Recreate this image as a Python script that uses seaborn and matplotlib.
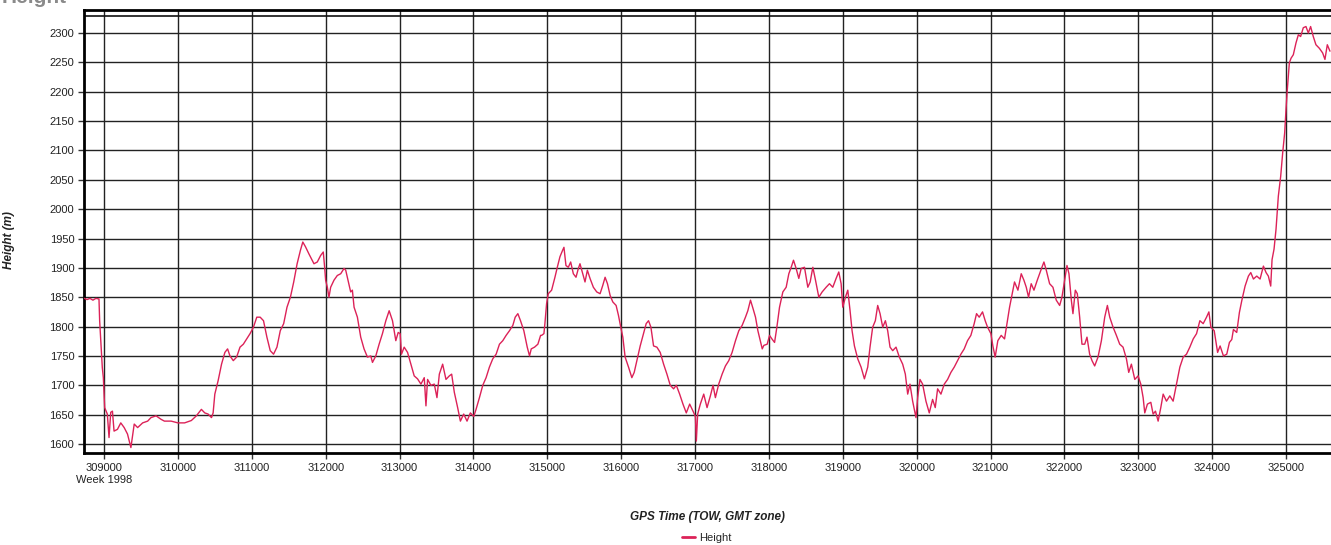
import numpy as np
import pandas as pd
import matplotlib
matplotlib.use('Agg')
from matplotlib import pyplot as plt
from matplotlib.lines import Line2D
import seaborn as sns

# GPS time of week (s) and ellipsoid height (m)
tow_a = [308735, 308770, 308810, 308850, 308890, 308932, 308941, 308977, 308991, 309009,
         309045, 309068, 309091, 309114, 309136, 309182, 309227, 309273, 309318, 309364,
         309409, 309455, 309523, 309591, 309636, 309705, 309773, 309818, 309909, 310000,
         310091, 310182, 310250, 310318, 310364, 310409, 310455, 310477, 310500, 310545,
         310591, 310636, 310673, 310705, 310750, 310795, 310841, 310886, 310932, 310977,
         311023, 311068, 311114, 311159, 311205, 311250, 311295, 311341, 311386, 311432,
         311477, 311523, 311568, 311614, 311659, 311691, 311727, 311773, 311818]
height_a = [1848, 1846, 1848, 1845, 1848, 1847, 1810, 1730, 1713, 1662,
            1651, 1611, 1654, 1656, 1622, 1625, 1636, 1628, 1617, 1594,
            1634, 1628, 1636, 1639, 1645, 1648, 1642, 1639, 1639, 1636,
            1636, 1640, 1648, 1659, 1653, 1651, 1645, 1653, 1685, 1708,
            1736, 1756, 1762, 1750, 1742, 1748, 1765, 1770, 1779, 1788,
            1799, 1816, 1816, 1810, 1782, 1759, 1753, 1765, 1793, 1805,
            1833, 1850, 1876, 1907, 1930, 1944, 1936, 1924, 1913]

tow_b = [311842, 311887, 311932, 311968, 311986, 312000, 312023, 312045, 312068, 312113,
         312158, 312204, 312249, 312272, 312294, 312339, 312362, 312385, 312430, 312475,
         312520, 312566, 312611, 312634, 312679, 312724, 312769, 312815, 312860, 312905,
         312950, 312982, 313009, 313027, 313063, 313109, 313154, 313199, 313244, 313290,
         313335, 313358, 313380, 313425, 313471, 313507, 313539, 313584, 313629, 313674,
         313706, 313742, 313787, 313824, 313869, 313914, 313959, 314005, 314036, 314082,
         314127, 314172, 314217, 314262, 314308, 314353, 314398, 314443, 314489, 314534,
         314566, 314602, 314638, 314683, 314729, 314760, 314783, 314828, 314873, 314910]
height_b = [1907, 1910, 1921, 1927, 1902, 1879, 1867, 1850, 1867, 1879,
            1887, 1890, 1899, 1896, 1884, 1859, 1862, 1833, 1816, 1782,
            1762, 1748, 1750, 1739, 1750, 1770, 1788, 1810, 1827, 1810,
            1776, 1790, 1788, 1753, 1765, 1756, 1736, 1716, 1711, 1702,
            1713, 1665, 1710, 1700, 1702, 1679, 1719, 1736, 1710, 1716,
            1719, 1688, 1662, 1639, 1651, 1639, 1653, 1647, 1659, 1679,
            1700, 1713, 1731, 1745, 1753, 1770, 1776, 1785, 1793, 1802,
            1816, 1822, 1810, 1793, 1765, 1750, 1762, 1765, 1770, 1785]

tow_c = [314923, 314955, 314968, 314991, 315014, 315059, 315104, 315136, 315172, 315208,
         315226, 315253, 315285, 315317, 315353, 315389, 315421, 315443, 315480, 315511,
         315543, 315579, 315624, 315670, 315715, 315751, 315783, 315815, 315851, 315887,
         315932, 315964, 315995, 316023, 316054, 316100, 316145, 316177, 316213, 316258,
         316303, 316339, 316371, 316403, 316439, 316484, 316529, 316575, 316620, 316665,
         316710, 316747, 316792, 316837, 316882, 316928, 316973, 317005, 317018, 317036,
         317072, 317118, 317163, 317208, 317244, 317276, 317321, 317367, 317412, 317457,
         317502, 317548, 317593, 317638, 317683, 317715, 317751, 317787, 317819, 317851,
         317878, 317910, 317932, 317977]
height_c = [1785, 1788, 1805, 1839, 1856, 1862, 1884, 1901, 1919, 1930,
            1935, 1904, 1901, 1910, 1890, 1884, 1899, 1907, 1890, 1876,
            1896, 1882, 1867, 1859, 1856, 1870, 1884, 1873, 1853, 1842,
            1836, 1819, 1799, 1782, 1748, 1731, 1713, 1722, 1742, 1767,
            1788, 1805, 1810, 1799, 1767, 1765, 1756, 1736, 1719, 1700,
            1694, 1700, 1685, 1668, 1653, 1668, 1656, 1647, 1605, 1651,
            1668, 1685, 1662, 1682, 1700, 1679, 1702, 1719, 1733, 1742,
            1756, 1776, 1793, 1802, 1816, 1827, 1845, 1830, 1816, 1793,
            1779, 1762, 1768, 1770]

tow_d = [318009, 318041, 318077, 318108, 318144, 318189, 318234, 318270, 318302, 318333,
         318369, 318405, 318437, 318482, 318527, 318559, 318595, 318631, 318676, 318721,
         318775, 318820, 318865, 318910, 318946, 318978, 319000, 319036, 319068, 319099,
         319126, 319158, 319203, 319248, 319293, 319338, 319369, 319405, 319441, 319473,
         319505, 319541, 319577, 319608, 319640, 319676, 319721, 319766, 319811, 319847,
         319879, 319910, 319946, 319991, 320014, 320045, 320081, 320126, 320171, 320216,
         320252, 320284, 320329, 320374, 320419, 320464, 320509, 320554, 320599, 320644,
         320689, 320734, 320779, 320811, 320847, 320892, 320928, 320960, 321005]
height_d = [1785, 1779, 1773, 1799, 1833, 1859, 1867, 1890, 1901, 1913,
            1899, 1882, 1899, 1901, 1867, 1876, 1901, 1879, 1850, 1859,
            1867, 1873, 1867, 1882, 1893, 1873, 1833, 1850, 1862, 1827,
            1793, 1767, 1745, 1731, 1711, 1731, 1765, 1799, 1810, 1836,
            1822, 1799, 1810, 1793, 1765, 1759, 1765, 1748, 1736, 1719,
            1685, 1702, 1673, 1645, 1679, 1710, 1702, 1673, 1653, 1676,
            1662, 1694, 1685, 1702, 1710, 1722, 1731, 1742, 1753, 1762,
            1776, 1785, 1805, 1822, 1816, 1825, 1810, 1799, 1788]

tow_e = [321032, 321063, 321099, 321145, 321190, 321226, 321258, 321289, 321325, 321371,
         321416, 321452, 321484, 321515, 321551, 321588, 321633, 321664, 321696, 321723,
         321755, 321800, 321845, 321890, 321936, 321967, 322003, 322035, 322062, 322094,
         322116, 322148, 322175, 322207, 322238, 322275, 322306, 322342, 322374, 322410,
         322455, 322501, 322546, 322582, 322614, 322659, 322704, 322749, 322794, 322840,
         322871, 322907, 322953, 322998, 323034, 323066, 323088, 323124, 323170, 323201,
         323233, 323269, 323305, 323337, 323382, 323427, 323472, 323518, 323563, 323608,
         323653, 323698, 323744, 323789, 323834, 323879, 323924, 323956, 323983, 324028,
         324074]
height_e = [1767, 1748, 1776, 1785, 1779, 1807, 1833, 1853, 1876, 1862,
            1890, 1879, 1867, 1850, 1873, 1862, 1879, 1890, 1901, 1910,
            1896, 1873, 1867, 1845, 1836, 1850, 1879, 1904, 1890, 1845,
            1822, 1862, 1856, 1816, 1770, 1770, 1782, 1753, 1742, 1733,
            1748, 1776, 1816, 1836, 1816, 1799, 1785, 1770, 1765, 1745,
            1722, 1736, 1710, 1716, 1702, 1679, 1653, 1668, 1671, 1651,
            1656, 1639, 1662, 1685, 1673, 1682, 1673, 1702, 1731, 1748,
            1753, 1765, 1779, 1788, 1810, 1805, 1816, 1825, 1799, 1793,
            1756]

tow_f = [324108, 324153, 324198, 324234, 324266, 324288, 324333, 324369, 324401, 324446,
         324491, 324523, 324559, 324604, 324649, 324694, 324730, 324761, 324793, 324811,
         324838, 324865, 324896, 324928, 324955, 324982, 325000, 325018, 325045, 325068,
         325099, 325135, 325167, 325198, 325234, 325270, 325302, 325333, 325369, 325405,
         325451, 325496, 325527, 325559, 325595]
height_f = [1767, 1750, 1753, 1773, 1778, 1795, 1790, 1824, 1844, 1869,
            1886, 1892, 1881, 1886, 1881, 1903, 1892, 1886, 1869, 1914,
            1932, 1966, 2022, 2056, 2096, 2130, 2170, 2204, 2249, 2257,
            2263, 2283, 2297, 2294, 2309, 2311, 2300, 2311, 2294, 2280,
            2274, 2266, 2255, 2280, 2269]

x_ticks = list(range(309000, 326000, 1000))
y_ticks = list(range(1600, 2350, 50))

df = pd.DataFrame({
    'tow': tow_a + tow_b + tow_c + tow_d + tow_e + tow_f,
    'height': height_a + height_b + height_c + height_d + height_e + height_f,
})

sns.set_style('white')
plt.rcParams['font.family'] = ['Liberation Sans', 'DejaVu Sans']

fig = plt.figure(figsize=(13.31, 5.45), dpi=100)
ax = fig.add_axes([0.0631, 0.1688, 0.9369, 0.8129])

sns.lineplot(data=df, x='tow', y='height', ax=ax, color='#dc2258',
             linewidth=1.0, label='Height', legend=False, zorder=3)

ax.set_xlim(308729, 325609)
ax.set_ylim(1584.7, 2339.2)
ax.set_xticks(x_ticks)
ax.set_yticks(y_ticks)
xlabels = [str(t) for t in x_ticks]
xlabels[0] = xlabels[0] + '\nWeek 1998'
ax.set_xticklabels(xlabels, fontsize=8, color='#222222', linespacing=1.3)
ax.set_yticklabels([str(v) for v in y_ticks], fontsize=8, color='#222222')
ax.tick_params(axis='both', which='major', direction='out', length=4, width=1,
               color='#333333', bottom=True, left=True, pad=3)

ax.grid(True, which='major', color='#222222', linewidth=1.0)
ax.set_axisbelow(True)
ax.axhline(2329, color='#111111', linewidth=1.2, zorder=2)

for side in ['left', 'bottom', 'top']:
    ax.spines[side].set_color('#000000')
    ax.spines[side].set_linewidth(2.0)
ax.spines['right'].set_visible(False)

ax.set_xlabel('GPS Time (TOW, GMT zone)', fontsize=8.5, fontweight='bold',
              fontstyle='italic', color='#222222')
ax.xaxis.set_label_coords(0.5, -0.131)
ax.set_ylabel('Height (m)', fontsize=8.5, fontweight='bold', fontstyle='italic',
              color='#222222')
ax.yaxis.set_label_coords(-0.0553, 0.48)

fig.text(0.0015, 0.995, 'Height', fontsize=15, fontweight='bold', color='#8a8a8a',
         ha='left', va='baseline')

handle = Line2D([], [], color='#dc2258', linewidth=2)
fig.legend([handle], ['Height'], loc='center', bbox_to_anchor=(0.531, 0.013),
           frameon=False, fontsize=8, handlelength=1.2, handletextpad=0.4)

plt.savefig('out.png', dpi=100)
